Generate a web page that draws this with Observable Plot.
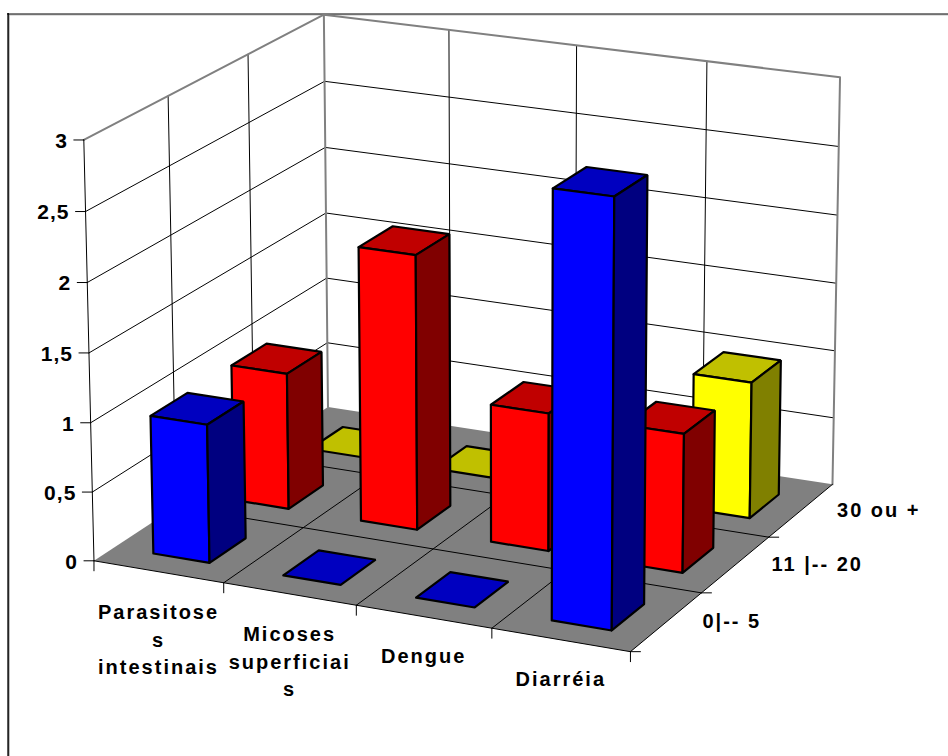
<!DOCTYPE html>
<html>
<head>
<meta charset="utf-8">
<script src="https://cdn.jsdelivr.net/npm/d3@7"></script>
<script src="https://cdn.jsdelivr.net/npm/@observablehq/plot@0.6"></script>
<style>
  html, body { margin: 0; padding: 0; background: #fff; }
  svg { display: block; }
  svg text { letter-spacing: 2px; }
  svg .value-labels text { letter-spacing: 1px; }
</style>
</head>
<body>
<div id="chart"></div>
<script>
// Cases by illness and age band
const categories = ["Parasitose\ns\nintestinais", "Micoses\nsuperficiai\ns", "Dengue", "Diarréia"];
const series = ["0|-- 5", "11 |-- 20", "30 ou +"];
const values0a5 = [1, 0, 0, 3];
const values11a20 = [1, 2, 1, 1];
const values30mais = [0, 0, 0, 1];
const yTicks = [0, 0.5, 1, 1.5, 2, 2.5, 3];
const yTickLabels = ["0", "0,5", "1", "1,5", "2", "2,5", "3"];

const seriesValues = [values0a5, values11a20, values30mais];
const faceColors = [
  {front: "#0000ff", top: "#0000c0", side: "#000080"},
  {front: "#ff0000", top: "#c00000", side: "#800000"},
  {front: "#ffff00", top: "#c0c000", side: "#808000"}
];

// Perspective camera: box points (category, series, value) and where they land on the page
const nU = categories.length, nV = series.length, nW = 3;
const anchors = [
  [0, 0, 0, 95, 561], [1, 0, 0, 223, 582], [2, 0, 0, 357, 606], [3, 0, 0, 492, 629], [nU, 0, 0, 630, 652],
  [nU, 1, 0, 702, 592], [nU, 2, 0, 768, 537], [nU, nV, 0, 832, 484], [0, nV, 0, 325, 405],
  [0, 0, nW, 83, 139], [0, 1, nW, 167, 96], [0, 2, nW, 247, 53], [0, nV, nW, 325, 15],
  [1, nV, nW, 449, 30], [2, nV, nW, 576, 44], [3, nV, nW, 707, 62], [nU, nV, nW, 840, 77],
  [3.75, 0.25, nW, 614, 195], [3.75, 0.25, 0, 612, 628]
];

function solve(A, b) {
  const n = b.length, M = A.map((r, i) => [...r, b[i]]);
  for (let c = 0; c < n; c++) {
    let p = c;
    for (let r = c + 1; r < n; r++) if (Math.abs(M[r][c]) > Math.abs(M[p][c])) p = r;
    [M[c], M[p]] = [M[p], M[c]];
    for (let r = 0; r < n; r++) {
      if (r === c) continue;
      const f = M[r][c] / M[c][c];
      for (let k = c; k <= n; k++) M[r][k] -= f * M[c][k];
    }
  }
  return M.map((r, i) => r[n] / r[i]);
}

// Least-squares fit of the 11 camera parameters
const rowsA = [], rowsB = [];
for (const [u, v, w, px, py] of anchors) {
  rowsA.push([u, v, w, 1, 0, 0, 0, 0, -px * u, -px * v, -px * w]); rowsB.push(px);
  rowsA.push([0, 0, 0, 0, u, v, w, 1, -py * u, -py * v, -py * w]); rowsB.push(py);
}
const ata = d3.range(11).map(i => d3.range(11).map(j => d3.sum(rowsA, r => r[i] * r[j])));
const atb = d3.range(11).map(i => d3.sum(rowsA, (r, k) => r[i] * rowsB[k]));
const cam = solve(ata, atb);
function project(u, v, w) {
  const d = cam[8] * u + cam[9] * v + cam[10] * w + 1;
  return [(cam[0] * u + cam[1] * v + cam[2] * w + cam[3]) / d,
          (cam[4] * u + cam[5] * v + cam[6] * w + cam[7]) / d];
}

// Flat tables of projected polygons and segments for the line marks
const polys = [];
let polyId = 0;
function addPoly(corners, fill) {
  const id = polyId++;
  for (const [u, v, w] of [...corners, corners[0]]) {
    const [x, y] = project(u, v, w);
    polys.push({id, x, y, fill});
  }
}
function segments(list) {
  const out = [];
  list.forEach((pts, id) => pts.forEach(([u, v, w]) => {
    const [x, y] = project(u, v, w);
    out.push({id, x, y});
  }));
  return out;
}
// Screen-aligned tick: starts on a box point and runs a fixed length along the page
function ticks(points, dx, dy) {
  return points.flatMap(([u, v, w], i) => {
    const [x, y] = project(u, v, w);
    return [{id: i, x, y}, {id: i, x: x + dx, y: y + dy}];
  });
}

const barLeft = 0.30, barRight = 0.735, barFront = 0.25, barBack = 0.70;
for (let s = nV - 1; s >= 0; s--) {
  for (let c = 0; c < nU; c++) {
    const h = seriesValues[s][c];
    const u0 = c + barLeft, u1 = c + barRight;
    const v0 = s + barFront, v1 = s + barBack;
    const col = faceColors[s];
    addPoly([[u0, v0, h], [u1, v0, h], [u1, v1, h], [u0, v1, h]], col.top);
    if (h > 0) {
      addPoly([[u0, v0, 0], [u1, v0, 0], [u1, v0, h], [u0, v0, h]], col.front);
      addPoly([[u1, v0, 0], [u1, v1, 0], [u1, v1, h], [u1, v0, h]], col.side);
    }
  }
}

const wallGrid = segments([
  ...yTicks.slice(1, -1).map(t => [[0, 0, t], [0, nV, t], [nU, nV, t]]),
  ...d3.range(1, nV).map(v => [[0, v, 0], [0, v, nW]]),
  ...d3.range(1, nU).map(u => [[u, nV, 0], [u, nV, nW]])
]);
const wallEdges = segments([[[0, 0, nW], [0, nV, nW], [nU, nV, nW], [nU, nV, 0]], [[0, nV, 0], [0, nV, nW]]]);
const floorGrid = segments([
  ...d3.range(1, nU + 1).map(u => [[u, 0, 0], [u, nV, 0]]),
  ...d3.range(0, nV).map(v => [[0, v, 0], [nU, v, 0]])
]);
const axisLine = segments([[[0, 0, 0], [0, 0, nW]]]);
const valueTicks = ticks(yTicks.map(t => [0, 0, t]), -10, 0);
const categoryTicks = ticks(d3.range(0, nU + 1).map(u => [u, 0, 0]), 0, 10);
const seriesTicks = ticks(d3.range(0, nV).map(v => [nU, v, 0]), 10, 0);
const floorCorners = [[0, 0, 0], [nU, 0, 0], [nU, nV, 0], [0, nV, 0]];
const floor = floorCorners.map(([u, v, w]) => { const [x, y] = project(u, v, w); return {id: 0, x, y}; });
floor.push(floor[0]);

const at = (u, v, w, dx, dy, text) => { const [x, y] = project(u, v, w); return {x: x + dx, y: y + dy, text}; };
const categoryOffsets = [66, 66, 38, 37];
const yLabels = yTicks.map((t, i) => at(0, 0, t, -16, 1, yTickLabels[i]));
const catLabels = categories.map((t, i) => at(i + 0.5, 0, 0, 0, categoryOffsets[i], t));
const seriesLabels = series.map((t, i) => at(nU, i + 0.5, 0, 36, 0, t));

const font = {fontFamily: "Liberation Sans, Arial, sans-serif", fontWeight: "bold", fontSize: 20, fill: "#000"};
const thin = {x: "x", y: "y", z: "id", stroke: "#000", strokeWidth: 1};

const plot = Plot.plot({
  width: 948, height: 756,
  margin: 0,
  x: {domain: [0, 948], range: [0, 948], axis: null},
  y: {domain: [0, 756], range: [0, 756], axis: null},
  color: {type: "identity"},
  marks: [
    // Outer chart border, visible along the top and left only
    Plot.ruleY([14.5], {x1: 8, x2: 948, stroke: "#c0c0c0", strokeWidth: 1}),
    Plot.ruleX([8.8], {y1: 14, y2: 756, stroke: "#b0b0b0", strokeWidth: 1}),
    Plot.ruleY([13.5], {x1: 7, x2: 948, stroke: "#000", strokeWidth: 1}),
    Plot.ruleX([7.6], {y1: 13, y2: 756, stroke: "#000", strokeWidth: 1.5}),
    Plot.line(wallGrid, thin),
    Plot.line(wallEdges, {x: "x", y: "y", z: "id", stroke: "#808080", strokeWidth: 2}),
    Plot.line(floor, {x: "x", y: "y", z: "id", fill: "#808080", stroke: "none"}),
    Plot.line(floorGrid, thin),
    Plot.line(axisLine, thin),
    Plot.line(valueTicks, thin),
    Plot.line(categoryTicks, thin),
    Plot.line(seriesTicks, thin),
    Plot.line(polys, {x: "x", y: "y", z: "id", fill: "fill", stroke: "#000", strokeWidth: 2.2, strokeLinejoin: "miter"}),
    Plot.text(yLabels, {x: "x", y: "y", text: "text", textAnchor: "end", className: "value-labels", ...font, fontSize: 21}),
    Plot.text(catLabels, {x: "x", y: "y", text: "text", textAnchor: "middle", lineHeight: 1.37, ...font}),
    Plot.text(seriesLabels, {x: "x", y: "y", text: "text", textAnchor: "start", ...font})
  ]
});
document.getElementById("chart").appendChild(plot);
</script>
</body>
</html>
